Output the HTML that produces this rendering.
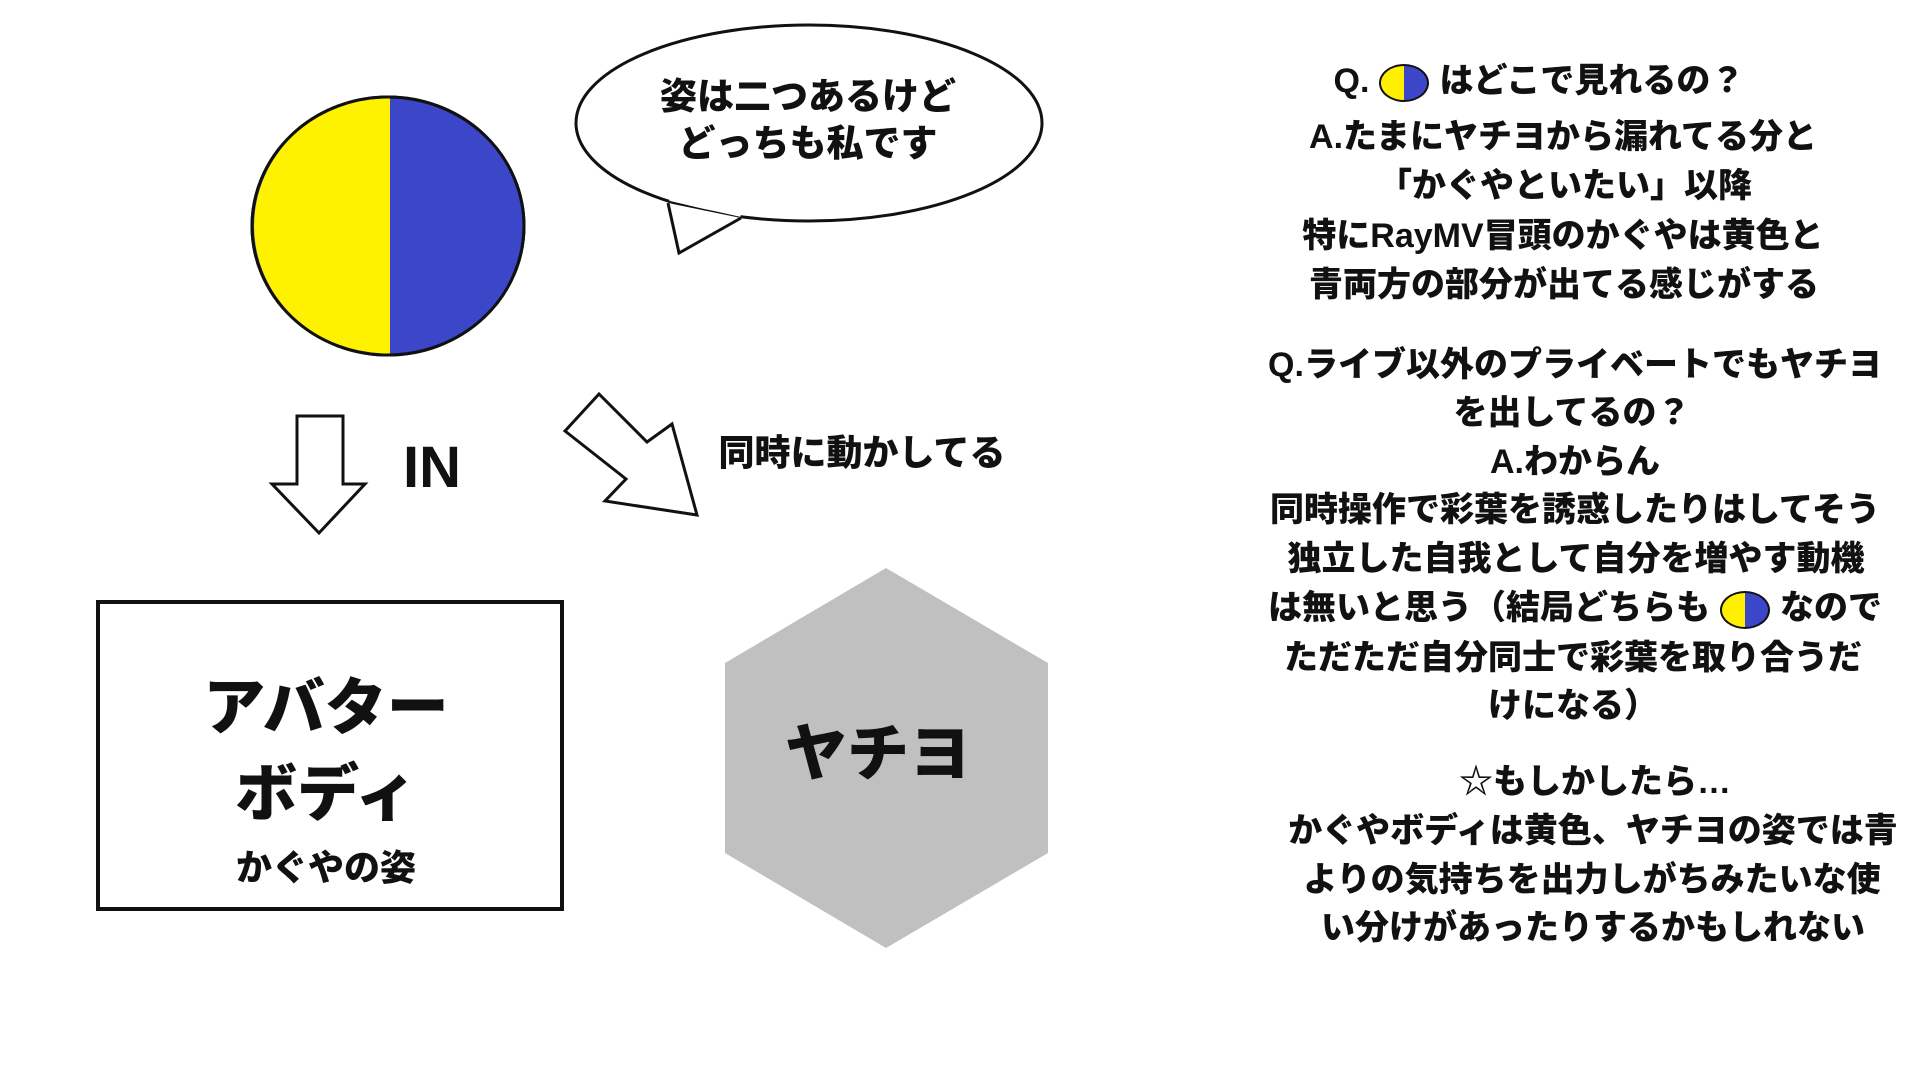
<!DOCTYPE html>
<html><head><meta charset="utf-8"><style>
body{margin:0;width:1920px;height:1080px;background:#fff;overflow:hidden;position:relative;font-family:"Liberation Sans","Noto Sans CJK JP",sans-serif;font-weight:900;color:#111}
#w{position:absolute;left:-4px;top:-2px;width:1920px;height:1080px}
.t{position:absolute;width:900px;text-align:center;white-space:nowrap;line-height:1;font-weight:900}
.r{font-size:34px}
.c{display:inline-block;width:50px;height:38px;border-radius:50%;border:2px solid #111;background:linear-gradient(90deg,#ffef00 50%,#3c46c8 50%);vertical-align:middle;box-sizing:border-box;margin:0 10px}
</style></head><body><div id="w">
<svg width="1920" height="1080" style="position:absolute;left:0;top:0">
<ellipse cx="392" cy="228" rx="136" ry="129" fill="#3c46c8" stroke="#111" stroke-width="3"/>
<path d="M394 99 A136 129 0 0 0 394 357 Z" fill="#fff200"/>
<ellipse cx="392" cy="228" rx="136" ry="129" fill="none" stroke="#111" stroke-width="3"/>
<ellipse cx="813" cy="125" rx="233" ry="98" fill="#fff" stroke="#111" stroke-width="3"/>
<path d="M672 205 L683 255 L745 220" fill="#fff" stroke="#111" stroke-width="3"/>
<path d="M674 200 L745 216" stroke="#fff" stroke-width="6"/>
<path d="M301 418 L347 418 L347 486 L369 486 L323 535 L276 486 L301 486 Z" fill="#fff" stroke="#111" stroke-width="3"/>
<path d="M569 433 L603 396 L651 444 L676 426 L701 517 L609 503 L630 481 Z" fill="#fff" stroke="#111" stroke-width="3"/>
<rect x="102" y="604" width="464" height="307" fill="#fff" stroke="#111" stroke-width="4"/>
<polygon points="890,570 1052,665 1052,855 890,950 729,855 729,665" fill="#c0c0c0"/>
</svg>
<div class="t" style="left:362px;top:80px;font-size:37px">姿は二つあるけど</div>
<div class="t" style="left:362px;top:127px;font-size:37px">どっちも私です</div>
<div class="t" style="left:-14px;top:441px;font-size:58px;font-family:'Liberation Sans',sans-serif;font-weight:bold">IN</div>
<div class="t" style="left:416px;top:437px;font-size:36px">同時に動かしてる</div>
<div class="t" style="left:-120px;top:680px;font-size:62px">アバター</div>
<div class="t" style="left:-120px;top:766px;font-size:62px">ボディ</div>
<div class="t" style="left:-120px;top:852px;font-size:36px">かぐやの姿</div>
<div class="t" style="left:432px;top:726px;font-size:62px">ヤチヨ</div>
<div class="t r" style="left:1093px;top:66px">Q.<span class="c"></span>はどこで見れるの？</div>
<div class="t r" style="left:1117px;top:122px">A.たまにヤチヨから漏れてる分と</div>
<div class="t r" style="left:1119px;top:171px">「かぐやといたい」以降</div>
<div class="t r" style="left:1117px;top:221px">特にRayMV冒頭のかぐやは黄色と</div>
<div class="t r" style="left:1118px;top:270px">青両方の部分が出てる感じがする</div>
<div class="t r" style="left:1129px;top:350px">Q.ライブ以外のプライベートでもヤチヨ</div>
<div class="t r" style="left:1126px;top:398px">を出してるの？</div>
<div class="t r" style="left:1129px;top:447px">A.わからん</div>
<div class="t r" style="left:1129px;top:495px">同時操作で彩葉を誘惑したりはしてそう</div>
<div class="t r" style="left:1130px;top:544px">独立した自我として自分を増やす動機</div>
<div class="t r" style="left:1129px;top:593px">は無いと思う（結局どちらも<span class="c"></span>なので</div>
<div class="t r" style="left:1127px;top:643px">ただただ自分同士で彩葉を取り合うだ</div>
<div class="t r" style="left:1127px;top:691px">けになる）</div>
<div class="t r" style="left:1149px;top:767px">☆もしかしたら…</div>
<div class="t r" style="left:1147px;top:816px">かぐやボディは黄色、ヤチヨの姿では青</div>
<div class="t r" style="left:1146px;top:865px">よりの気持ちを出力しがちみたいな使</div>
<div class="t r" style="left:1147px;top:913px">い分けがあったりするかもしれない</div>
</div></body></html>
